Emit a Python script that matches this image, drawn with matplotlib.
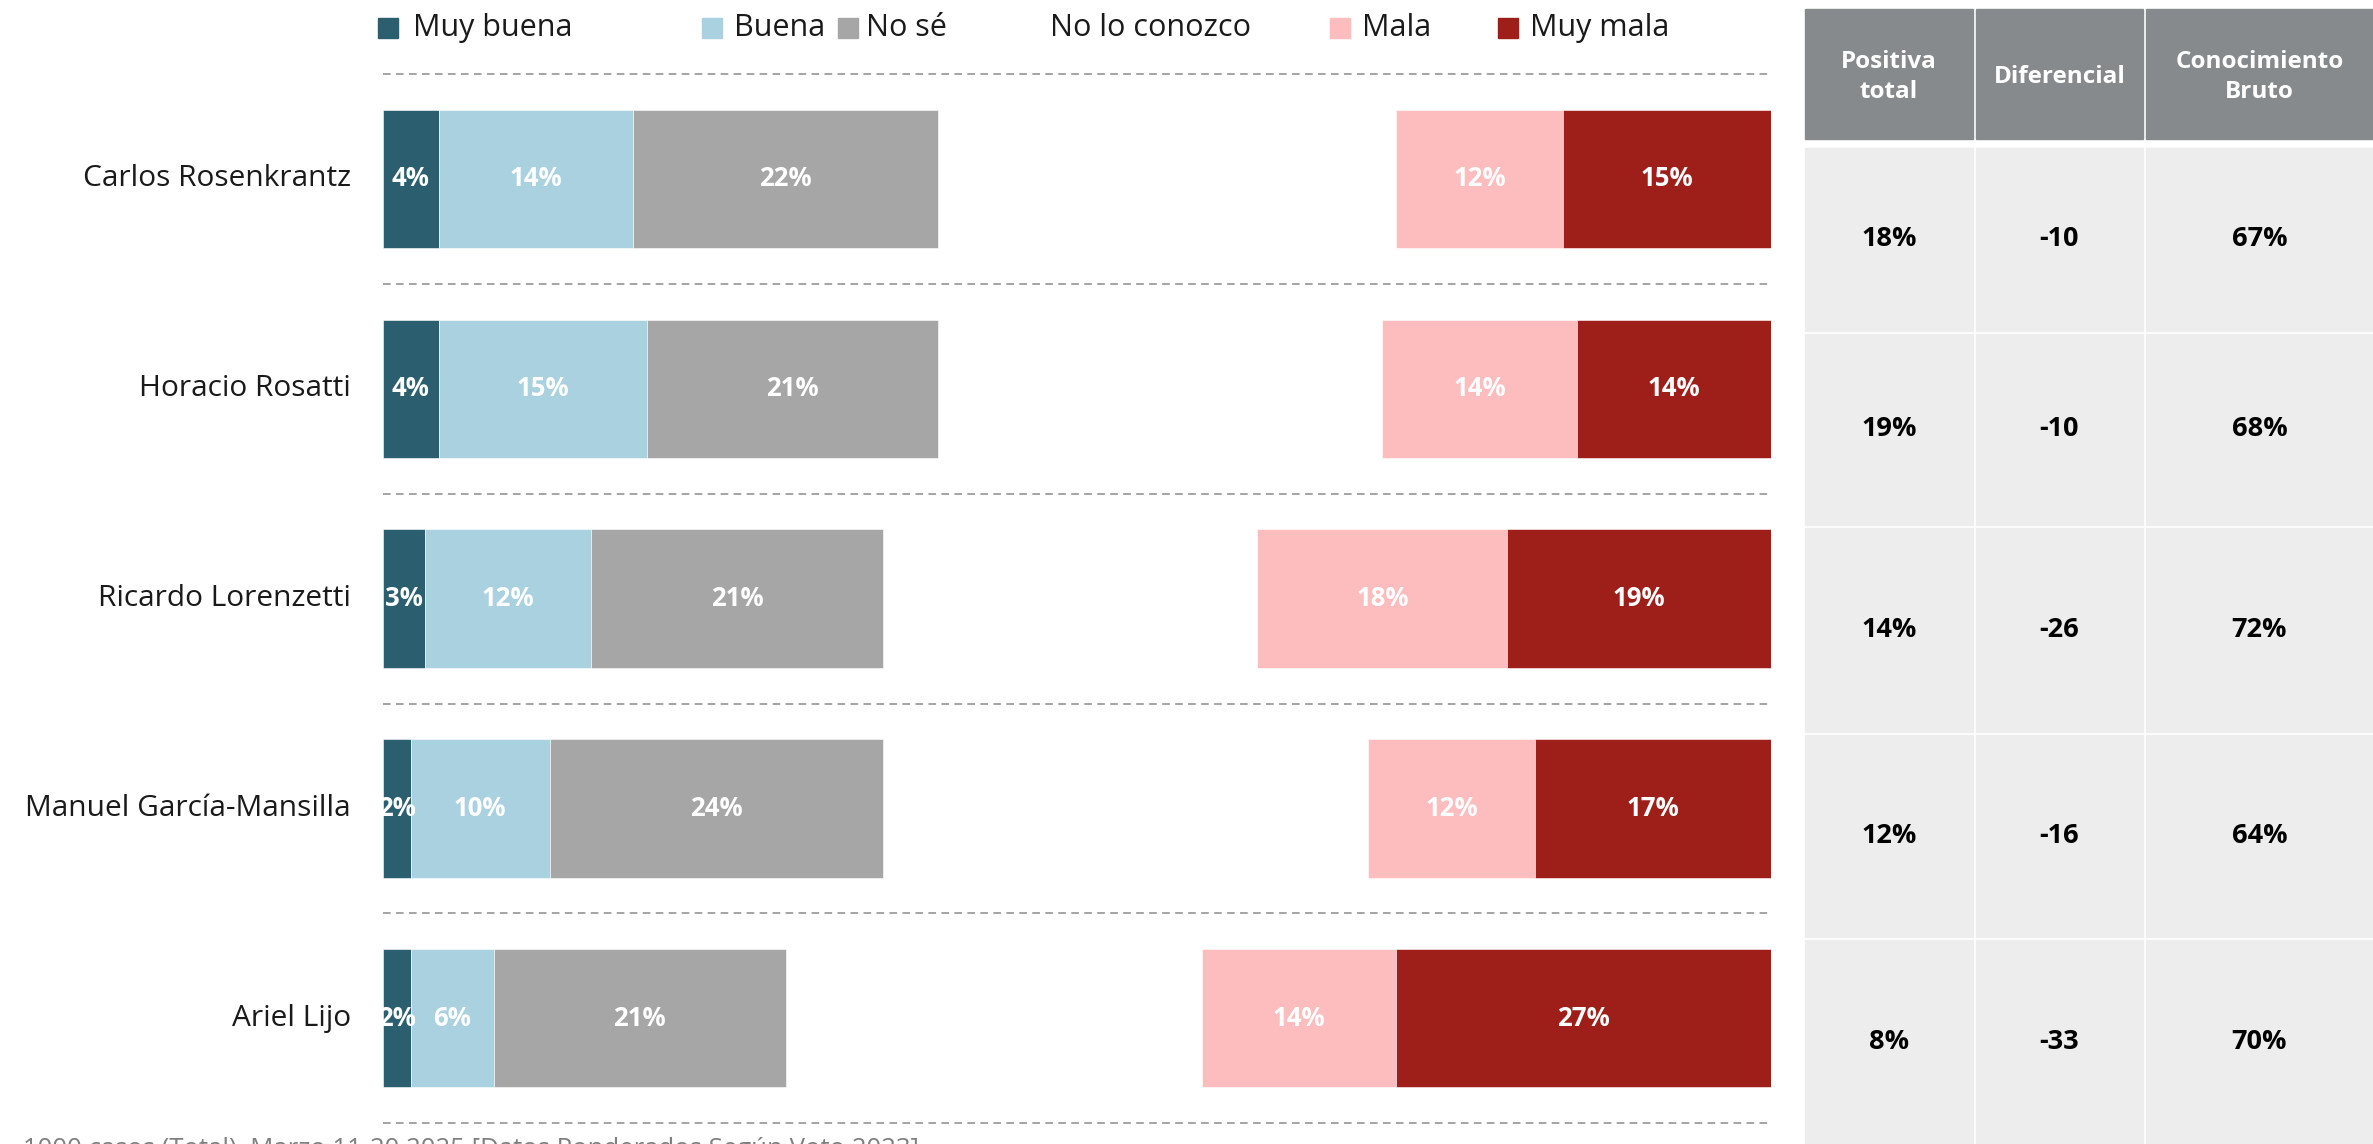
import numpy as np
import matplotlib.pyplot as plt
from matplotlib.patches import Rectangle

plt.rcParams['font.family'] = ['Open Sans', 'DejaVu Sans']

# data
candidatos = ['Carlos Rosenkrantz', 'Horacio Rosatti', 'Ricardo Lorenzetti',
              'Manuel García-Mansilla', 'Ariel Lijo']
muy_buena = [4, 4, 3, 2, 2]
buena = [14, 15, 12, 10, 6]
no_se = [22, 21, 21, 24, 21]
mala = [12, 14, 18, 12, 14]
muy_mala = [15, 14, 19, 17, 27]

positiva_total = [18, 19, 14, 12, 8]
diferencial = [-10, -10, -26, -16, -33]
conocimiento = [67, 68, 72, 64, 70]

legend_labels = ['Muy buena', 'Buena', 'No sé', 'No lo conozco', 'Mala', 'Muy mala']
table_header = ['Positiva\ntotal', 'Diferencial', 'Conocimiento\nBruto']
nota = '1000 casos (Total). Marzo 11-20 2025 [Datos Ponderados Según Voto 2023]'

c_muy_buena = '#2B5F6F'
c_buena = '#AAD1DF'
c_no_se = '#A6A6A6'
c_mala = '#FDBCBE'
c_muy_mala = '#9E1F1A'
colors = [c_muy_buena, c_buena, c_no_se, 'white', c_mala, c_muy_mala]

W, H = 2373, 1144
fig = plt.figure(figsize=(W / 100, H / 100), dpi=100)

# bar axes: x 0..100 maps to pixels 383..1771
ax = fig.add_axes([383 / W, 0, (1771 - 383) / W, 1])
row_h = 209.8
top_c = 179
ax.set_xlim(0, 100)
ax.set_ylim((H - top_c) / row_h, -top_c / row_h)
ax.axis('off')

y = np.arange(len(candidatos))
mb = np.array(muy_buena)
b = np.array(buena)
ns = np.array(no_se)
m = np.array(mala)
mm = np.array(muy_mala)

segments = [
    (mb, np.zeros(len(y)), c_muy_buena),
    (b, mb, c_buena),
    (ns, mb + b, c_no_se),
    (m, 100 - mm - m, c_mala),
    (mm, 100 - mm, c_muy_mala),
]
for vals, lefts, col in segments:
    ax.barh(y, vals, left=lefts, height=0.66, color=col,
            edgecolor='white', linewidth=0.4)
    for yi, v, l in zip(y, vals, lefts):
        ax.text(l + v / 2, yi, f'{v}%', ha='center', va='center',
                color='white', fontsize=18.5, fontweight='bold')

for k in range(len(y) + 1):
    ax.plot([0, 100], [k - 0.5, k - 0.5], color='#8C8C8C', lw=1.1,
            linestyle=(0, (5, 3.5)), clip_on=False)

for yi, name in zip(y, candidatos):
    ax.text(-2.3, yi, name, ha='right', va='center', fontsize=21.5,
            color='#1a1a1a')

# overlay canvas in pixel coordinates for legend, table and note
cv = fig.add_axes([0, 0, 1, 1])
cv.set_xlim(0, W)
cv.set_ylim(H, 0)
cv.axis('off')
cv.patch.set_alpha(0)

sq_x = [378, 702, 838, None, 1330, 1498]
tx_x = [413, 734, 866, 1050, 1362, 1530]
for lab, col, sx, tx in zip(legend_labels, colors, sq_x, tx_x):
    if sx is not None:
        cv.add_patch(Rectangle((sx, 18), 20, 20, color=col))
    cv.text(tx, 28, lab, ha='left', va='center', fontsize=22, color='#1a1a1a')

# table
col_edges = [(1805, 1973), (1976, 2143), (2146, 2373)]
row_edges = [(148, 331), (334, 525), (528, 732), (735, 937), (940, 1150)]
for (x0, x1), head in zip(col_edges, table_header):
    cv.add_patch(Rectangle((x0, 9), x1 - x0, 130, color='#878A8D'))
    cv.text((x0 + x1) / 2, 77, head, ha='center', va='center', fontsize=17.5,
            fontweight='bold', color='white', linespacing=1.3)

cols = [[f'{v}%' for v in positiva_total],
        [f'{v}' for v in diferencial],
        [f'{v}%' for v in conocimiento]]
for (x0, x1), vals in zip(col_edges, cols):
    for (y0, y1), v in zip(row_edges, vals):
        cv.add_patch(Rectangle((x0, y0), x1 - x0, y1 - y0, color='#ECEDEC'))
        yc = (y0 + min(y1, 1144)) / 2
        cv.text((x0 + x1) / 2, yc, v, ha='center', va='center', fontsize=19.5,
                fontweight='bold', color='black')

cv.text(23, 1137, nota, ha='left', va='top', fontsize=18.5, color='#7F7F7F')

fig.savefig('out.png', dpi=100)
